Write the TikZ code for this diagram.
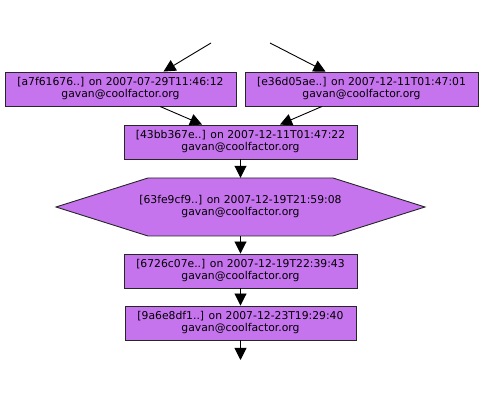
\documentclass[tikz,border=0pt]{standalone}
\usepackage{fontspec}
\setmainfont{DejaVu Sans}
\usetikzlibrary{arrows.meta,calc}
\definecolor{nodefill}{RGB}{198,115,238}
\begin{document}
\begin{tikzpicture}[x=1pt,y=1pt,
  lbl/.style={align=center,font=\fontsize{10.8}{12}\selectfont},
  box/.style={lbl,draw=black!85,line width=0.9pt,fill=nodefill,minimum height=34pt,inner sep=0pt},
  edge/.style={line width=0.9pt,-{Triangle[length=12pt,width=12pt]}}]
\useasboundingbox (0,0) rectangle (484,414);
\node[box,minimum width=231pt] (A) at (120.5,325) {[a7f61676..] on 2007-07-29T11:46:12\\gavan@coolfactor.org};
\node[box,minimum width=233pt] (B) at (361.5,325) {[e36d05ae..] on 2007-12-11T01:47:01\\gavan@coolfactor.org};
\node[box,minimum width=233pt] (C) at (240.5,272) {[43bb367e..] on 2007-12-11T01:47:22\\gavan@coolfactor.org};
\coordinate (Dc) at (240.5,207);
\draw[draw=black!85,line width=0.9pt,fill=nodefill]
  ($(Dc)+(-184.5,0)$) -- ($(Dc)+(-92.5,29)$) -- ($(Dc)+(92.5,29)$) -- ($(Dc)+(184.5,0)$) -- ($(Dc)+(92.5,-29)$) -- ($(Dc)+(-92.5,-29)$) -- cycle;
\node[lbl,minimum width=369pt,minimum height=58pt,inner sep=0pt] (D) at (Dc) {[63fe9cf9..] on 2007-12-19T21:59:08\\gavan@coolfactor.org};
\node[box,minimum width=233pt] (E) at (240.5,143) {[6726c07e..] on 2007-12-19T22:39:43\\gavan@coolfactor.org};
\node[box,minimum width=231pt] (F) at (240.5,91) {[9a6e8df1..] on 2007-12-23T19:29:40\\gavan@coolfactor.org};
\coordinate (s1) at (211,371);
\coordinate (s2) at (270,371);
\coordinate (t) at (240.5,54);
\draw[edge] (s1) -- ([xshift=43pt]A.north);
\draw[edge] (s2) -- ([xshift=-36pt]B.north);
\draw[edge] ([xshift=39.5pt]A.south) -- ([xshift=-38.5pt]C.north);
\draw[edge] ([xshift=-39.5pt]B.south) -- ([xshift=39.5pt]C.north);
\draw[edge] (C.south) -- (D.north);
\draw[edge] (D.south) -- (E.north);
\draw[edge] (E.south) -- (F.north);
\draw[edge] (F.south) -- (t);
\end{tikzpicture}
\end{document}
